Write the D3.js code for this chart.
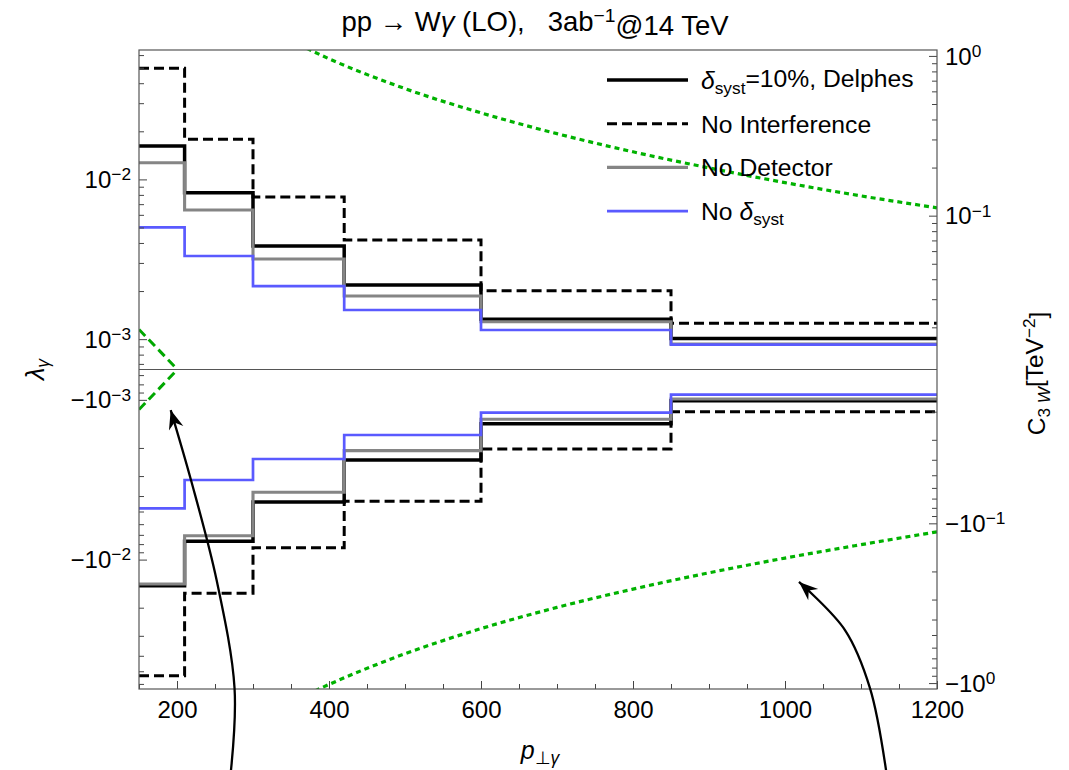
<!DOCTYPE html>
<html>
<head>
<meta charset="utf-8">
<script src="https://cdn.jsdelivr.net/npm/d3@7"></script>
<style>
body { margin: 0; background: #fff; }
text { font-family: "Liberation Sans", Arial, sans-serif; fill: #000; }
</style>
</head>
<body>
<div id="chart-area"></div>
<script>
// pT bins
var binEdges = [150, 210, 300, 420, 600, 850, 1200];

// lambda_gamma bounds per bin (upper / lower)
var delphesUp = [0.0162, 0.00825, 0.00383, 0.00218, 0.00133, 0.00101];
var delphesLo = [-0.01457, -0.00768, -0.004358, -0.002379, -0.00141, -0.001012];
var noInterfUp = [0.0496, 0.01782, 0.00776, 0.004175, 0.00201, 0.001257];
var noInterfLo = [-0.0533, -0.01625, -0.00842, -0.004315, -0.00203, -0.001186];
var noDetUp = [0.01272, 0.00643, 0.003175, 0.001863, 0.001285, 0.000932];
var noDetLo = [-0.01421, -0.00709, -0.00379, -0.00208, -0.001323, -0.000988];
var noSystUp = [0.005013, 0.003316, 0.00215, 0.001522, 0.001141, 0.000925];
var noSystLo = [-0.004774, -0.003175, -0.002346, -0.00166, -0.001203, -0.000928];

// green dotted: C3W bound (right axis units)
var c3wPt = [360, 400, 500, 600, 700, 800, 900, 1000, 1100, 1200];
var c3wUp = [1.18, 0.96, 0.624, 0.44, 0.326, 0.251, 0.199, 0.161, 0.133, 0.112];
var c3wLo = [-1.25, -1.02, -0.655, -0.456, -0.336, -0.258, -0.204, -0.165, -0.136, -0.113];

// green dashed near the origin (lambda units)
var dashPt = [150, 200];
var dashUp = [0.00115, 0.00065];
var dashLo = [-0.00115, -0.00065];

// axis ticks
var xMajor = [200, 400, 600, 800, 1000, 1200];
var xMinor = d3.range(150, 1201, 50);
var leftMajor = [1e-2, 1e-3, -1e-3, -1e-2];
var leftLabels = [["10", "\u22122"], ["10", "\u22123"], ["\u221210", "\u22123"], ["\u221210", "\u22122"]];
var leftMinorAbs = [0.06, 0.05, 0.04, 0.03, 0.02, 0.009, 0.008, 0.007, 0.006, 0.005, 0.004, 0.003, 0.002, 0.0009, 0.0008, 0.0007];
var rightMajor = [1, 0.1, -0.1, -1];
var rightLabels = [["10", "0"], ["10", "\u22121"], ["\u221210", "\u22121"], ["\u221210", "0"]];
var rightMinorAbs = [0.9, 0.8, 0.7, 0.6, 0.5, 0.4, 0.3, 0.2, 0.09, 0.08, 0.07, 0.06, 0.05, 0.04, 0.03, 0.02];

// annotation arrows in [pT, transformed y]
var arrowLeft = [[271, -2.51], [275.7, -1.994], [252.1, -1.318], [218.4, -0.692], [191.7, -0.254]];
var arrowRight = [[1133, -2.51], [1111.8, -1.994], [1078.9, -1.631], [1018.4, -1.33]];

var margin = {top: 50, right: 132, bottom: 81, left: 139};
var width = 798;
var height = 639;

// log scale split around zero, lambda side and C3W side
var cutL = 3.19, cutC = 1.963;
function tl(v) { return Math.sign(v) * Math.max(0, Math.log10(Math.abs(v)) + cutL); }
function tc(v) { return Math.sign(v) * Math.max(0, Math.log10(Math.abs(v)) + cutC); }

var svg = d3.select('#chart-area')
    .append('svg')
        .attr('width', 1069)
        .attr('height', 770);

svg.append('rect').attr('width', 1069).attr('height', 770).attr('fill', '#fff');

var g = svg.append('g')
    .attr('transform', 'translate(' + margin.left + ', ' + margin.top + ')');

var x = d3.scaleLinear().domain([150, 1200]).range([0, width]);
var y = d3.scaleLinear().domain([-2, 2]).range([height, 0]);

g.append('clipPath').attr('id', 'clip')
    .append('rect').attr('width', width).attr('height', height);

// centre line
g.append('line')
    .attr('x1', 0).attr('x2', width)
    .attr('y1', y(0)).attr('y2', y(0))
    .attr('stroke', '#555').attr('stroke-width', 1);

var plot = g.append('g').attr('clip-path', 'url(#clip)');

function stepPts(vals) {
    var pts = vals.map((v, i) => [binEdges[i], v]);
    pts.push([binEdges[binEdges.length - 1], vals[vals.length - 1]]);
    return pts;
}
var stepLine = d3.line()
    .x(d => x(d[0]))
    .y(d => y(tl(d[1])))
    .curve(d3.curveStepAfter);

var series = [
    {up: noInterfUp, lo: noInterfLo, color: '#000', w: 3, dash: '10,5'},
    {up: delphesUp, lo: delphesLo, color: '#000', w: 3.5, dash: null},
    {up: noDetUp, lo: noDetLo, color: '#858585', w: 3.1, dash: null},
    {up: noSystUp, lo: noSystLo, color: '#5a5aff', w: 2.7, dash: null}
];

series.forEach(s => {
    [s.up, s.lo].forEach(vals => {
        plot.append('path')
            .attr('d', stepLine(stepPts(vals)))
            .attr('fill', 'none')
            .attr('stroke', s.color)
            .attr('stroke-width', s.w)
            .attr('stroke-dasharray', s.dash);
    });
});

// green curves
var c3wLine = d3.line()
    .x((d, i) => x(c3wPt[i]))
    .y(d => y(tc(d)))
    .curve(d3.curveMonotoneX);
[c3wUp, c3wLo].forEach(vals => {
    plot.append('path')
        .attr('d', c3wLine(vals))
        .attr('fill', 'none')
        .attr('stroke', '#00b200')
        .attr('stroke-width', 3.2)
        .attr('stroke-dasharray', '5,4');
});

var dashLine = d3.line()
    .x((d, i) => x(dashPt[i]))
    .y(d => y(tl(d)));
[dashUp, dashLo].forEach(vals => {
    plot.append('path')
        .attr('d', dashLine(vals))
        .attr('fill', 'none')
        .attr('stroke', '#00a800')
        .attr('stroke-width', 3)
        .attr('stroke-dasharray', '9,5');
});

// axes
function styleAxis(sel) {
    sel.select('.domain').remove();
    sel.selectAll('.tick line').attr('stroke', '#444').attr('stroke-width', 1);
    sel.selectAll('.tick text').attr('font-size', 24).attr('font-family', '"Liberation Sans", Arial, sans-serif');
}

g.append('g')
    .attr('transform', 'translate(0,' + height + ')')
    .call(d3.axisBottom(x).tickValues(xMinor).tickSize(-5).tickFormat(() => ''))
    .call(styleAxis);
g.append('g')
    .attr('transform', 'translate(0,' + height + ')')
    .call(d3.axisBottom(x).tickValues(xMajor).tickSize(-8).tickPadding(12).tickFormat(d3.format('d')))
    .call(styleAxis);

var leftMinor = leftMinorAbs.concat(leftMinorAbs.map(v => -v)).filter(v => Math.abs(tl(v)) > 0 && Math.abs(tl(v)) <= 2);
g.append('g')
    .call(d3.axisLeft(y).tickValues(leftMinor.map(tl)).tickSize(-5).tickFormat(() => ''))
    .call(styleAxis);
g.append('g')
    .call(d3.axisLeft(y).tickValues(leftMajor.map(tl)).tickSize(-8).tickFormat(() => ''))
    .call(styleAxis);

var rightMinor = rightMinorAbs.concat(rightMinorAbs.map(v => -v)).filter(v => Math.abs(tc(v)) > 0 && Math.abs(tc(v)) <= 2);
g.append('g')
    .attr('transform', 'translate(' + width + ',0)')
    .call(d3.axisRight(y).tickValues(rightMinor.map(tc)).tickSize(-5).tickFormat(() => ''))
    .call(styleAxis);
g.append('g')
    .attr('transform', 'translate(' + width + ',0)')
    .call(d3.axisRight(y).tickValues(rightMajor.map(tc)).tickSize(-8).tickFormat(() => ''))
    .call(styleAxis);

function powLabel(sel, parts) {
    sel.append('tspan').text(parts[0]);
    sel.append('tspan').attr('dy', '-0.45em').attr('font-size', '0.72em').text(parts[1]);
}
leftMajor.forEach((v, i) => {
    g.append('text')
        .attr('x', -8).attr('y', y(tl(v)))
        .attr('dy', '0.36em')
        .attr('text-anchor', 'end')
        .attr('font-size', 24)
        .call(powLabel, leftLabels[i]);
});
rightMajor.forEach((v, i) => {
    g.append('text')
        .attr('x', width + 8).attr('y', y(tc(v)))
        .attr('dy', '0.36em')
        .attr('text-anchor', 'start')
        .attr('font-size', 24)
        .call(powLabel, rightLabels[i]);
});

// frame
g.append('rect')
    .attr('width', width).attr('height', height)
    .attr('fill', 'none').attr('stroke', '#555').attr('stroke-width', 1.2);

// legend
var legendItems = [
    {color: '#000', w: 3.5, dash: null},
    {color: '#000', w: 3, dash: '10,5'},
    {color: '#858585', w: 3.1, dash: null},
    {color: '#5a5aff', w: 2.7, dash: null}
];
var legend = g.append('g').attr('transform', 'translate(468, 30)');
legendItems.forEach((it, i) => {
    legend.append('line')
        .attr('x1', 0).attr('x2', 81)
        .attr('y1', i * 43.7).attr('y2', i * 43.7)
        .attr('stroke', it.color).attr('stroke-width', it.w)
        .attr('stroke-dasharray', it.dash);
});
function addDelta(t) {
    t.append('tspan').attr('font-style', 'italic').text('\u03b4');
    t.append('tspan').attr('dy', '0.3em').attr('font-size', '0.7em').text('syst');
}
var lf = 24.7;
var t0 = legend.append('text').attr('x', 94).attr('y', 0).attr('dy', '0.36em').attr('font-size', lf);
addDelta(t0);
t0.append('tspan').attr('dy', '-0.3em').text('=10%, Delphes');
legend.append('text').attr('x', 94).attr('y', 43.7).attr('dy', '0.36em').attr('font-size', lf).text('No Interference');
legend.append('text').attr('x', 94).attr('y', 87.4).attr('dy', '0.36em').attr('font-size', lf).text('No Detector');
var t3 = legend.append('text').attr('x', 94).attr('y', 131.1).attr('dy', '0.36em').attr('font-size', lf);
t3.append('tspan').text('No ');
addDelta(t3);

// title
var title = svg.append('text')
    .attr('x', 535).attr('y', 31)
    .attr('text-anchor', 'middle').attr('font-size', 27.5)
    .style('white-space', 'pre');
title.append('tspan').text('pp \u2192 W');
title.append('tspan').attr('font-style', 'italic').text('\u03b3');
title.append('tspan').text(' (LO),   3ab');
title.append('tspan').attr('dy', '-0.45em').attr('font-size', '0.7em').text('\u22121');
title.append('tspan').attr('dy', '0.45em').text('@14 TeV');

// x label
var xl = svg.append('text')
    .attr('x', margin.left + width / 2 + 2).attr('y', 759)
    .attr('text-anchor', 'middle').attr('font-size', 25);
xl.append('tspan').attr('font-style', 'italic').text('p');
xl.append('tspan').attr('dy', '0.3em').attr('font-size', '0.7em').text('\u22a5');
xl.append('tspan').attr('font-size', '0.7em').attr('font-style', 'italic').text('\u03b3');

// left y label
var yl = svg.append('text')
    .attr('transform', 'translate(44,' + (margin.top + height / 2) + ') rotate(-90)')
    .attr('text-anchor', 'middle').attr('font-size', 25);
yl.append('tspan').attr('font-style', 'italic').text('\u03bb');
yl.append('tspan').attr('dy', '0.3em').attr('font-size', '0.7em').attr('font-style', 'italic').text('\u03b3');

// right y label
var yr = svg.append('text')
    .attr('transform', 'translate(1045,' + (margin.top + height / 2 + 4) + ') rotate(-90)')
    .attr('text-anchor', 'middle').attr('font-size', 24.5);
yr.append('tspan').text('C');
yr.append('tspan').attr('dy', '0.3em').attr('font-size', '0.7em').text('3 ');
yr.append('tspan').attr('font-size', '0.7em').attr('font-style', 'italic').text('W');
yr.append('tspan').attr('dy', '-0.3em').text('[TeV');
yr.append('tspan').attr('dy', '-0.45em').attr('font-size', '0.7em').text('\u22122');
yr.append('tspan').attr('dy', '0.45em').text(']');

// arrows
var defs = svg.append('defs');
defs.append('marker')
    .attr('id', 'head')
    .attr('viewBox', '-20 -9 22 18')
    .attr('refX', 0).attr('refY', 0)
    .attr('markerWidth', 22).attr('markerHeight', 18)
    .attr('markerUnits', 'userSpaceOnUse')
    .attr('orient', 'auto')
    .append('path')
        .attr('d', 'M0,0 L-19,-7.5 L-13,0 L-19,7.5 Z')
        .attr('fill', '#000');

var arrowLine = d3.line()
    .x(d => margin.left + x(d[0]))
    .y(d => margin.top + y(d[1]))
    .curve(d3.curveCatmullRom);
[arrowLeft, arrowRight].forEach(pts => {
    svg.append('path')
        .attr('d', arrowLine(pts))
        .attr('fill', 'none')
        .attr('stroke', '#000')
        .attr('stroke-width', 2.3)
        .attr('marker-end', 'url(#head)');
});
</script>
</body>
</html>
